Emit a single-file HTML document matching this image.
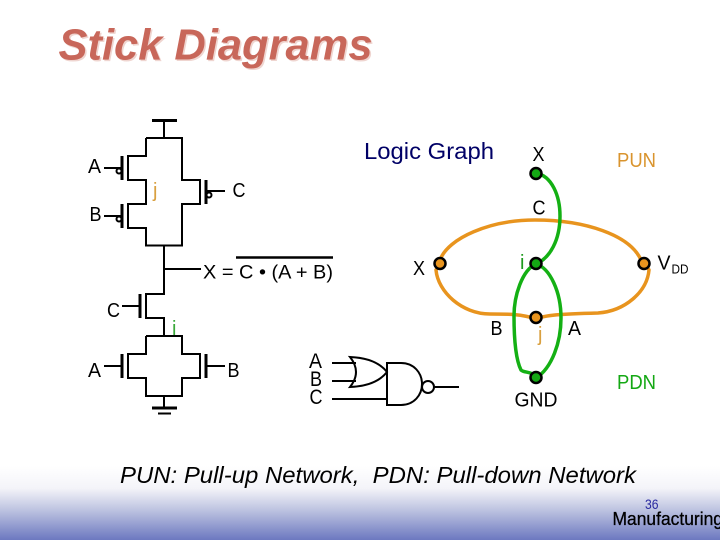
<!DOCTYPE html>
<html>
<head>
<meta charset="utf-8">
<style>
html,body{margin:0;padding:0;background:#fff;width:720px;height:540px;overflow:hidden}
svg{display:block}
text{font-family:"Liberation Sans",sans-serif}
</style>
</head>
<body>
<svg width="720" height="540" viewBox="0 0 720 540" xmlns="http://www.w3.org/2000/svg">
<defs>
<linearGradient id="bg" x1="0" y1="0" x2="0" y2="1">
<stop offset="0" stop-color="#ffffff"/>
<stop offset="0.3" stop-color="#f4f4f9"/>
<stop offset="0.6" stop-color="#bcc2e0"/>
<stop offset="1" stop-color="#6c78c0"/>
</linearGradient>
</defs>
<rect x="0" y="466" width="720" height="74" fill="url(#bg)"/>

<text x="60" y="61" font-size="44" font-weight="bold" font-style="italic" fill="#efd5d0" textLength="314" lengthAdjust="spacingAndGlyphs">Stick Diagrams</text>
<text x="58.500" y="59.500" font-size="44" font-weight="bold" font-style="italic" fill="#c8675a" textLength="314" lengthAdjust="spacingAndGlyphs">Stick Diagrams</text>

<g fill="none" stroke="#000" stroke-width="2">
<path d="M164 120V138M146 138H182V180H200V204H182V245.5H146V228H128V204H146V180H128V156H146V138"/>
<path d="M164 245.5V294H146V318H164V336M164 269H201"/>
<path d="M146 336H182V354H200V378H182V396H146V378H128V354H146V336"/>
<path d="M164 396V408"/>
<path d="M104 168H122M104 216H122M206 191H225M122 306H140M104 366H122M206 366H225"/>
<circle cx="119" cy="171" r="2.500"/>
<circle cx="119" cy="219" r="2.500"/>
<circle cx="209" cy="195" r="2.500"/>
</g>
<g stroke="#000" stroke-width="3" fill="none">
<path d="M152 120.500H177M152 408H177M122 156V180M122 204V228M206 180V204M140 294V318M122 354V378M206 354V378"/>
<path d="M158 413.500H171" stroke-width="2"/>
<path d="M236 257.500H333" stroke-width="2.500"/>
</g>

<g font-size="20" fill="#000">
<text x="88" y="173" textLength="13" lengthAdjust="spacingAndGlyphs">A</text>
<text x="89.500" y="221" textLength="12" lengthAdjust="spacingAndGlyphs">B</text>
<text x="232.500" y="197" textLength="13" lengthAdjust="spacingAndGlyphs">C</text>
<text x="107" y="317" textLength="13" lengthAdjust="spacingAndGlyphs">C</text>
<text x="88" y="377" textLength="13" lengthAdjust="spacingAndGlyphs">A</text>
<text x="227.500" y="377" textLength="12" lengthAdjust="spacingAndGlyphs">B</text>
</g>
<text x="153" y="197" font-size="20" fill="#d9a040">j</text>
<text x="172" y="335" font-size="20" fill="#3aa83a">i</text>
<text x="203" y="278.500" font-size="19.500" fill="#000" textLength="130" lengthAdjust="spacingAndGlyphs">X = C • (A + B)</text>

<text x="364" y="159" font-size="23" fill="#000066" textLength="130" lengthAdjust="spacingAndGlyphs">Logic Graph</text>

<g fill="#000" font-size="21">
<text x="309" y="368" textLength="13" lengthAdjust="spacingAndGlyphs">A</text>
<text x="310" y="386" textLength="12" lengthAdjust="spacingAndGlyphs">B</text>
<text x="309.500" y="404" textLength="13" lengthAdjust="spacingAndGlyphs">C</text>
</g>
<g fill="none" stroke="#000" stroke-width="2">
<path d="M332 363H356M332 381H356M332 399H387"/>
<path d="M350 357Q362 372 350 387Q376 386 387 372Q376 358 350 357Z"/>
<path d="M387 363H401C414 363 422 373 422 384C422 395 414 405 401 405H387Z"/>
<circle cx="428" cy="387" r="6"/>
<path d="M434 387H459"/>
</g>

<g fill="none" stroke-width="3.500" stroke-linecap="round">
<path stroke="#e8941e" d="M440 260C448 238 490 220 535 220C585 220 630 235 641 260"/>
<path stroke="#e8941e" d="M439 264L436 270C438 292 462 314 490 314C508 314 522 314 536 319C545 315 560 314 598 313C625 311 647 292 649 270L646 264"/>
<path stroke="#14b014" d="M536 173C552 176 560 196 560 216C560 240 550 258 536 264"/>
<path stroke="#14b014" d="M536 264C550 268 561 292 561 318C561 342 552 368 536 378"/>
<path stroke="#14b014" d="M536 264C522 270 514 296 514 316C514 340 516 360 521 370C524 373 530 371 536 376"/>
</g>
<g stroke="#000" stroke-width="2.500">
<circle cx="536" cy="173.500" r="5.500" fill="#14a814"/>
<circle cx="536" cy="263.500" r="5.500" fill="#14a814"/>
<circle cx="536" cy="377.500" r="5.500" fill="#14a814"/>
<circle cx="440" cy="263.500" r="5.500" fill="#e8941e"/>
<circle cx="644" cy="263.500" r="5.500" fill="#e8941e"/>
<circle cx="536" cy="317.500" r="5.500" fill="#e8941e"/>
</g>

<g font-size="20" fill="#000">
<text x="532.500" y="161" textLength="12" lengthAdjust="spacingAndGlyphs">X</text>
<text x="532.500" y="214.500" textLength="13" lengthAdjust="spacingAndGlyphs">C</text>
<text x="413" y="275" textLength="12" lengthAdjust="spacingAndGlyphs">X</text>
<text x="657.500" y="269.500" textLength="13" lengthAdjust="spacingAndGlyphs">V</text>
<text x="671.500" y="273.500" font-size="12.500" textLength="17" lengthAdjust="spacingAndGlyphs">DD</text>
<text x="490.500" y="335" textLength="12" lengthAdjust="spacingAndGlyphs">B</text>
<text x="568" y="335" textLength="13" lengthAdjust="spacingAndGlyphs">A</text>
<text x="514.500" y="406.500" textLength="43" lengthAdjust="spacingAndGlyphs">GND</text>
</g>
<text x="520" y="269" font-size="20" fill="#1f9a1f">i</text>
<text x="538" y="341" font-size="20" fill="#d9a040">j</text>
<text x="617" y="167" font-size="20" fill="#d9942e" textLength="39" lengthAdjust="spacingAndGlyphs">PUN</text>
<text x="617" y="389" font-size="20" fill="#14a814" textLength="39" lengthAdjust="spacingAndGlyphs">PDN</text>

<text x="120" y="483" font-size="23.500" font-style="italic" fill="#000" textLength="516" lengthAdjust="spacingAndGlyphs" xml:space="preserve">PUN: Pull-up Network,  PDN: Pull-down Network</text>

<text x="645" y="509" font-size="14" fill="#2a2aa0" textLength="13.500" lengthAdjust="spacingAndGlyphs">36</text>
<text x="612.500" y="525" font-size="18" fill="#000" stroke="#000" stroke-width="0.300" textLength="110.500" lengthAdjust="spacingAndGlyphs">Manufacturing</text>
</svg>
</body>
</html>
